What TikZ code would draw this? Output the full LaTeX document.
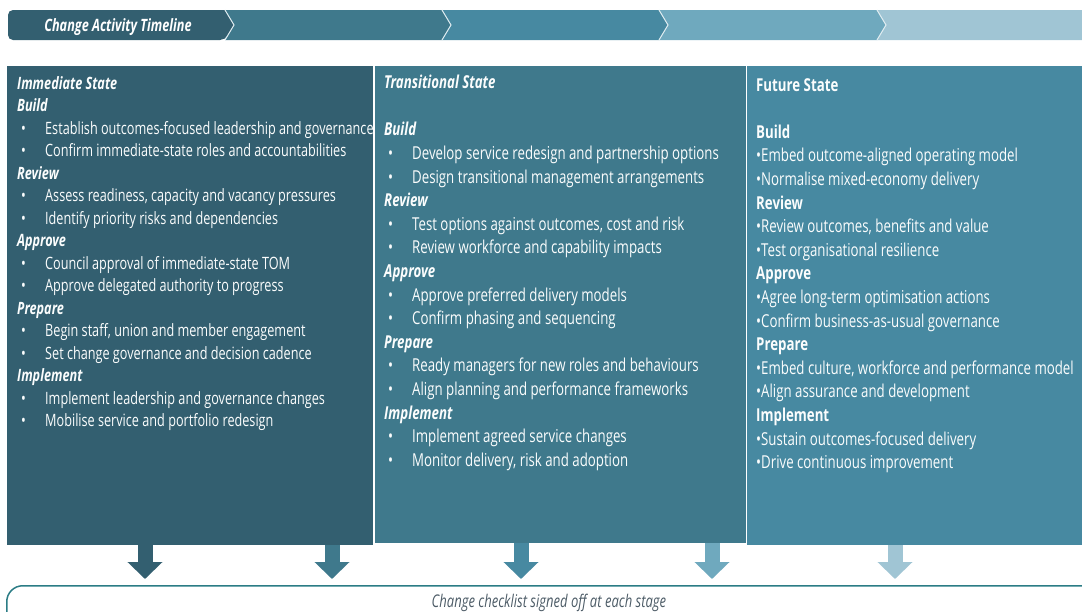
\documentclass[tikz,border=0pt]{standalone}
\usepackage{fontspec}
\setmainfont{Open Sans}[FakeStretch=0.745]
\usetikzlibrary{arrows.meta}

\definecolor{stageA}{RGB}{51,95,112}
\definecolor{stageB}{RGB}{63,121,140}
\definecolor{stageC}{RGB}{71,137,161}
\definecolor{stageD}{RGB}{111,169,190}
\definecolor{stageE}{RGB}{160,197,212}
\definecolor{checkline}{RGB}{43,124,133}
\definecolor{checktext}{RGB}{76,91,102}

% heading and bullet lines inside the state columns
\newcommand{\hd}[1]{\textbf{\textit{#1}}}
\newcommand{\hdup}[1]{\textbf{#1}}
\newcommand{\itm}[1]{\hspace*{4pt}\makebox[24pt][l]{•}#1}
\newcommand{\blt}[1]{•#1}

\begin{document}
\begin{tikzpicture}[x=1pt, y=-1pt,
    colbox/.style={rectangle, inner sep=0pt, anchor=north west, minimum height=479pt},
    coltext/.style={inner sep=0pt, anchor=north west, align=left, text=white!96!stageE},
    stagearrow/.style={line width=15pt, -{Triangle[width=34pt, length=17pt]}, shorten >=6pt},
    sep/.style={white!70!stageE, line width=1pt}]

    \useasboundingbox (0,0) rectangle (1082,611);
    \clip (0,0) rectangle (1082,611);

    % timeline chevrons
    \fill[stageA, rounded corners=5pt] (225,10) -- (8,10) -- (8,40) -- (225,40) [sharp corners] -- (234,25) -- cycle;
    \fill[stageB] (225,10) -- (442,10) -- (451,25) -- (442,40) -- (225,40) -- (234,25) -- cycle;
    \fill[stageC] (442,10) -- (659,10) -- (668,25) -- (659,40) -- (442,40) -- (451,25) -- cycle;
    \fill[stageD] (659,10) -- (877,10) -- (886,25) -- (877,40) -- (659,40) -- (668,25) -- cycle;
    \fill[stageE] (877,10) -- (1090,10) -- (1090,40) -- (877,40) -- (886,25) -- cycle;
    \foreach \x in {225,442,659,877}
        \draw[sep] (\x,10) -- (\x+9,25) -- (\x,40);
    \node[text=white, font=\fontsize{17}{20}\selectfont\bfseries\itshape] (timeline) at (118,27) {Change Activity Timeline};

    % state columns
    \node[colbox, fill=stageA, minimum width=366pt] (colA) at (7,66) {};
    \node[colbox, fill=stageB, minimum width=371pt, minimum height=477pt] (colB) at (375,66) {};
    \node[colbox, fill=stageC, minimum width=340pt] (colC) at (747,66) {};

    \node[coltext, font=\fontsize{17}{22.5}\selectfont] (txtA) at (17,76) {%
        \hd{Immediate State}\\
        \hd{Build}\\
        \itm{Establish outcomes-focused leadership and governance}\\
        \itm{Confirm immediate-state roles and accountabilities}\\
        \hd{Review}\\
        \itm{Assess readiness, capacity and vacancy pressures}\\
        \itm{Identify priority risks and dependencies}\\
        \hd{Approve}\\
        \itm{Council approval of immediate-state TOM}\\
        \itm{Approve delegated authority to progress}\\
        \hd{Prepare}\\
        \itm{Begin staff, union and member engagement}\\
        \itm{Set change governance and decision cadence}\\
        \hd{Implement}\\
        \itm{Implement leadership and governance changes}\\
        \itm{Mobilise service and portfolio redesign}};

    \node[coltext, font=\fontsize{17.8}{23.6}\selectfont] (txtB) at (384,75) {%
        \hd{Transitional State}\\[23.6pt]
        \hd{Build}\\
        \itm{Develop service redesign and partnership options}\\
        \itm{Design transitional management arrangements}\\
        \hd{Review}\\
        \itm{Test options against outcomes, cost and risk}\\
        \itm{Review workforce and capability impacts}\\
        \hd{Approve}\\
        \itm{Approve preferred delivery models}\\
        \itm{Confirm phasing and sequencing}\\
        \hd{Prepare}\\
        \itm{Ready managers for new roles and behaviours}\\
        \itm{Align planning and performance frameworks}\\
        \hd{Implement}\\
        \itm{Implement agreed service changes}\\
        \itm{Monitor delivery, risk and adoption}};

    \node[coltext, font=\fontsize{17.8}{23.6}\selectfont] (txtC) at (756,78) {%
        \hdup{Future State}\\[23.6pt]
        \hdup{Build}\\
        \blt{Embed outcome-aligned operating model}\\
        \blt{Normalise mixed-economy delivery}\\
        \hdup{Review}\\
        \blt{Review outcomes, benefits and value}\\
        \blt{Test organisational resilience}\\
        \hdup{Approve}\\
        \blt{Agree long-term optimisation actions}\\
        \blt{Confirm business-as-usual governance}\\
        \hdup{Prepare}\\
        \blt{Embed culture, workforce and performance model}\\
        \blt{Align assurance and development}\\
        \hdup{Implement}\\
        \blt{Sustain outcomes-focused delivery}\\
        \blt{Drive continuous improvement}};

    % sign-off bar
    \node[rectangle, draw=checkline, line width=1.5pt, rounded corners=16pt, inner sep=0pt,
        anchor=north west, minimum width=1120pt, minimum height=60pt] (check) at (6,585) {};
    \node[text=checktext, font=\fontsize{17.5}{20}\selectfont\itshape] (checklbl) at (549,603)
        {Change checklist signed off at each stage};

    % stage arrows down to the sign-off bar
    \coordinate (a1) at (145,0);
    \coordinate (a2) at (332,0);
    \coordinate (a3) at (521,0);
    \coordinate (a4) at (712,0);
    \coordinate (a5) at (895,0);
    \draw[stagearrow, stageA] (colA.south -| a1) -- (check.north -| a1);
    \draw[stagearrow, stageB] (colA.south -| a2) -- (check.north -| a2);
    \draw[stagearrow, stageC] (colB.south -| a3) -- (check.north -| a3);
    \draw[stagearrow, stageD] (colB.south -| a4) -- (check.north -| a4);
    \draw[stagearrow, stageE] (colC.south -| a5) -- (check.north -| a5);
\end{tikzpicture}
\end{document}
